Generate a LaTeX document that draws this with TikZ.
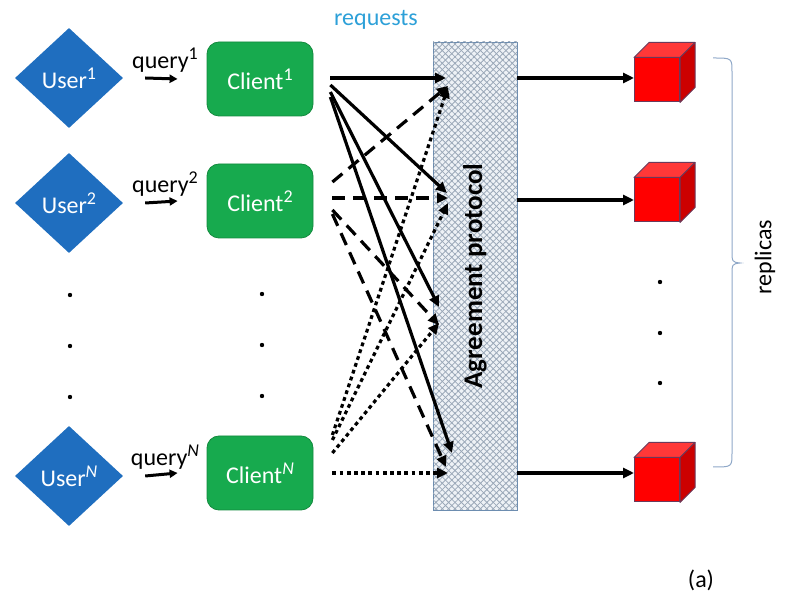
\documentclass[tikz,border=0pt]{standalone}
\usepackage{fontspec}
\setmainfont{Carlito}
\usetikzlibrary{shapes.geometric,arrows.meta,patterns.meta}
\definecolor{userblue}{HTML}{1F6EBF}
\definecolor{clientgreen}{HTML}{17AA4E}
\definecolor{clientborder}{HTML}{138A3E}
\definecolor{reqblue}{HTML}{2DA0D8}
\definecolor{boxfill}{HTML}{EEF2F6}
\definecolor{boxborder}{HTML}{6D8DB0}
\definecolor{hatch}{HTML}{9AA8B8}
\definecolor{cubetop}{HTML}{FF3838}
\definecolor{cubeside}{HTML}{CC0000}
\definecolor{cubeborder}{HTML}{6B3A5B}
\definecolor{bracecol}{HTML}{8FA8C8}
\newcommand\upidx[1]{\raisebox{0.36em}{\fontsize{18}{18}\selectfont#1}}
\tikzset{
  user/.style={diamond,fill=userblue,text=white,minimum width=108pt,minimum height=100pt,inner sep=0pt},
  client/.style={rectangle,rounded corners=12pt,fill=clientgreen,draw=clientborder,line width=0.8pt,text=white,minimum width=106pt,minimum height=74pt},
  protocol/.style={rectangle,draw=boxborder,line width=0.8pt,minimum width=84pt,minimum height=468pt,
    preaction={fill=boxfill},
    pattern={Lines[angle=45,distance=4.5pt,line width=0.8pt]},pattern color=hatch,
    postaction={pattern={Lines[angle=-45,distance=4.5pt,line width=0.8pt]},pattern color=hatch}},
  replica/.style={rectangle,fill=red,draw=cubeborder,line width=1pt,minimum width=45pt,minimum height=44pt,inner sep=0pt},
  req/.style={line width=3.2pt,-{Triangle[length=11pt,width=10pt]}},
  dashreq/.style={req,dash pattern=on 13pt off 8pt},
  dotreq/.style={req,dash pattern=on 3.8pt off 3.4pt},
  qarrow/.style={line width=3pt,-{Triangle[length=8pt,width=8pt]}}
}
\begin{document}
\begin{tikzpicture}[x=1pt,y=-1pt,font=\fontsize{24}{28}\selectfont]
  \useasboundingbox (0,0) rectangle (785,601);
  \draw
    (69,78) node[user] (u1){User\upidx{1}}
    (69,203) node[user] (u2){User\upidx{2}}
    (69,476) node[user] (u3){User\upidx{\itshape N}}
    (260,79) node[client] (c1){Client\upidx{1}}
    (260,201) node[client] (c2){Client\upidx{2}}
    (260,473) node[client] (c3){Client\upidx{\itshape N}}
    (165,60) node (q1){query\upidx{1}}
    (165,184) node (q2){query\upidx{2}}
    (165,457) node (q3){query\upidx{\itshape N}}
    (376,20) node[text=reqblue] (rq){requests}
    (475,276) node[protocol] (ap){}
    (657,80) node[replica] (r1){}
    (657,200) node[replica] (r2){}
    (657,480) node[replica] (r3){}
    (765,257) node[rotate=90] (rl){replicas}
    (701,580) node (cap){(a)};
  \node[rotate=90,font=\fontsize{27}{30}\selectfont\bfseries] (apl) at (ap) {Agreement protocol};
  \foreach \r in {r1,r2,r3} {
    \filldraw[fill=cubetop,draw=cubeborder,line width=1pt,line join=round]
      (\r.north west) -- ++(15,-15) -- ([shift={(15,-15)}]\r.north east) -- (\r.north east) -- cycle;
    \filldraw[fill=cubeside,draw=cubeborder,line width=1pt,line join=round]
      (\r.north east) -- ++(15,-15) -- ([shift={(15,-15)}]\r.south east) -- (\r.south east) -- cycle;
  }
  \foreach \x/\y in {70/295,70/346,70/397,262/294,262/345,262/396,660/282,660/333,660/383}
    \fill (\x,\y) circle (2.2pt);
  \coordinate (s1) at (446,78);
  \coordinate (s2) at (447,193);
  \coordinate (s3) at (439,307);
  \coordinate (s4) at (452,453);
  \coordinate (d1) at (448,86);
  \coordinate (d2) at (448,198);
  \coordinate (d3) at (439,325);
  \coordinate (d4) at (446,467);
  \coordinate (o1) at (448,87);
  \coordinate (o2) at (448,203);
  \coordinate (o3) at (439,323);
  \coordinate (o4) at (448,473);
  \begin{scope}
    \draw[qarrow] ([xshift=22pt]u1.east) -- ([xshift=-29pt]c1.west);
    \draw[qarrow] ([xshift=22pt]u2.east) -- ([xshift=-29pt]c2.west);
    \draw[qarrow] ([xshift=22pt]u3.east) -- ([xshift=-29pt]c3.west);
    \foreach \n/\dy in {1/-1,2/6,3/13,4/18}
      \draw[req] ([shift={(17,\dy)}]c1.east) -- (s\n);
    \foreach \n/\dy in {1/-19,2/-3,3/9,4/13}
      \draw[dashreq] ([shift={(19,\dy)}]c2.east) -- (d\n);
    \foreach \n/\dy in {1/-38,2/-33,3/-20,4/0}
      \draw[dotreq] ([shift={(19,\dy)}]c3.east) -- (o\n);
    \draw[req,line width=3.5pt] (ap.east |- s1) -- (r1.west |- s1);
    \draw[req,line width=3.5pt] (ap.east |- r2.west) -- (r2.west);
    \draw[req,line width=3.5pt] (ap.east |- o4) -- (r3.west |- o4);
  \end{scope}
  \draw[bracecol,line width=1pt]
    (713,58) .. controls (732,58) .. (732,72) -- (732,250)
    .. controls (732,262) .. (740,263) .. controls (732,264) .. (732,276)
    -- (732,453) .. controls (732,467) .. (713,467);
\end{tikzpicture}
\end{document}
